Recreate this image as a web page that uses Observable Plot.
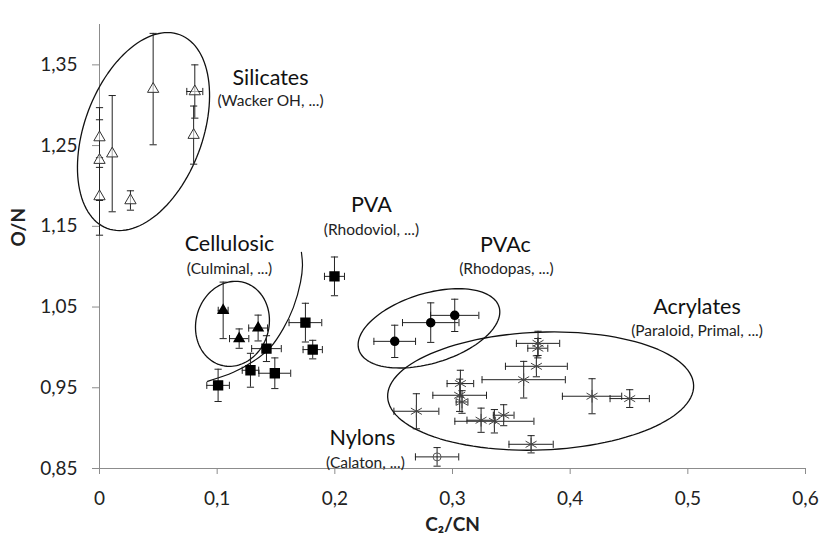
<!DOCTYPE html>
<html>
<head>
<meta charset="utf-8">
<script src="https://cdn.jsdelivr.net/npm/d3@7"></script>
<script src="https://cdn.jsdelivr.net/npm/@observablehq/plot@0.6"></script>
<style>
  html, body { margin: 0; padding: 0; background: #fff; }
  #chart { width: 819px; height: 542px; }
</style>
</head>
<body>
<div id="chart"></div>
<script>
// ---- data ----
const xTicks = [0, 0.1, 0.2, 0.3, 0.4, 0.5, 0.6];
const yTicks = [0.85, 0.95, 1.05, 1.15, 1.25, 1.35];

// Silicates (open triangles)
const silX  = [0, 0, 0, 0.0108, 0.0263, 0.0456, 0.081, 0.080];
const silY  = [1.260, 1.232, 1.187, 1.240, 1.182, 1.320, 1.317, 1.263];
const silEX = [0, 0, 0, 0, 0, 0, 0.0068, 0];
const silEY = [0.037, 0.050, 0.048, 0.072, 0.012, 0.069, 0.033, 0.036];

// Cellulosic (filled triangles)
const celX  = [0.1051, 0.1187, 0.1348];
const celY  = [1.0459, 1.0109, 1.0240];
const celEX = [0.0042, 0.0082, 0.0080];
const celEY = [0.035, 0.012, 0.016];

// PVA (filled squares)
const pvaX  = [0.1008, 0.1283, 0.1490, 0.1419, 0.1750, 0.1812, 0.1997];
const pvaY  = [0.9530, 0.9717, 0.9680, 0.9985, 1.0307, 0.9973, 1.0880];
const pvaEX = [0.0096, 0.0070, 0.0135, 0.0126, 0.0139, 0.0082, 0.0085];
const pvaEY = [0.020, 0.021, 0.019, 0.016, 0.024, 0.0115, 0.024];

// PVAc (filled circles)
const pvacX  = [0.2509, 0.2815, 0.3019];
const pvacY  = [1.0075, 1.0307, 1.0397];
const pvacEX = [0.0177, 0.0240, 0.0205];
const pvacEY = [0.020, 0.0245, 0.020];

// Acrylates (stars)
const acrX  = [0.3727, 0.3725, 0.3713, 0.3605, 0.4186, 0.4506, 0.3067, 0.3061, 0.3081, 0.2693, 0.3243, 0.3356, 0.3435, 0.3668];
const acrY  = [1.0050, 0.9990, 0.9766, 0.9600, 0.9395, 0.9366, 0.9552, 0.9407, 0.9324, 0.9209, 0.9098, 0.9085, 0.9160, 0.8800];
const acrEX = [0.0184, 0.0085, 0.0263, 0.0354, 0.0252, 0.0167, 0.0113, 0.0228, 0.0050, 0.0191, 0.0120, 0.0336, 0.0088, 0.0188];
const acrEY = [0.015, 0.012, 0.013, 0.0227, 0.0217, 0.011, 0.0165, 0.020, 0.014, 0.0217, 0.015, 0.0145, 0.013, 0.0107];

// Nylons (open circle)
const nylX  = [0.2869];
const nylY  = [0.8644];
const nylEX = [0.0184];
const nylEY = [0.0115];

// Group labels
const groupNames = ["Silicates", "Cellulosic", "PVA", "PVAc", "Acrylates", "Nylons"];
const groupSubs  = ["(Wacker OH, ...)", "(Culminal, ...)", "(Rhodoviol, ...)", "(Rhodopas, ...)", "(Paraloid, Primal, ...)", "(Calaton, ...)"];
const nameX = [0.1453, 0.1105, 0.2311, 0.3450, 0.5078, 0.2234];
const nameY = [1.3339, 1.1276, 1.1759, 1.1264, 1.0500, 0.8871];
const subX  = [0.1453, 0.1105, 0.2311, 0.3458, 0.5078, 0.2260];
const subY  = [1.3058, 1.0975, 1.1449, 1.0975, 1.0199, 0.8562];

// Group outlines (center in data units, semi-axes in px, rotation in deg)
const ellCX = [0.0374, 0.1130, 0.2800, 0.3749];
const ellCY = [1.2674, 1.0292, 1.0236, 0.9459];
const ellA  = [103.4, 42.9, 73.3, 153.1];
const ellB  = [58.9, 36.5, 34.9, 58.9];
const ellAng = [-69.4, -74.9, -17, -2.2];

// Cellulosic boundary arc
const arcX = [0.0918, 0.1138, 0.1308, 0.1453, 0.1563, 0.1648, 0.1708, 0.1725, 0.1716];
const arcY = [0.9580, 0.9692, 0.9828, 1.0001, 1.0236, 1.0496, 1.0806, 1.1016, 1.1177];

// ---- build ----
const W = 819, H = 542;
const mL = 99, mR = 14, mT = 24, mB = 74;
const xDom = [0, 0.6], yDom = [0.85, 1.40];
const kx = (xDom[1] - xDom[0]) / (W - mL - mR);
const ky = (yDom[1] - yDom[0]) / (H - mT - mB);

function rows(g, xs, ys, exs, eys) {
  return xs.map((x, i) => ({g, x, y: ys[i], ex: exs[i], ey: eys[i]}));
}
const sil = rows("sil", silX, silY, silEX, silEY);
const cel = rows("cel", celX, celY, celEX, celEY);
const pva = rows("pva", pvaX, pvaY, pvaEX, pvaEY);
const pvac = rows("pvac", pvacX, pvacY, pvacEX, pvacEY);
const acr = rows("acr", acrX, acrY, acrEX, acrEY);
const nyl = rows("nyl", nylX, nylY, nylEX, nylEY);
const all = [...sil, ...cel, ...pva, ...pvac, ...acr, ...nyl];

const vBars = all.filter(d => d.ey > 0);
const hBars = all.filter(d => d.ex > 0);
const capsV = vBars.flatMap(d => [{x: d.x, y: d.y - d.ey}, {x: d.x, y: d.y + d.ey}]);
const capsH = hBars.flatMap(d => [{x: d.x - d.ex, y: d.y}, {x: d.x + d.ex, y: d.y}]);

const hLine = {draw(ctx, size) { const r = Math.sqrt(size / Math.PI); ctx.moveTo(-r, 0); ctx.lineTo(r, 0); }};
const vLine = {draw(ctx, size) { const r = Math.sqrt(size / Math.PI); ctx.moveTo(0, -r); ctx.lineTo(0, r); }};

const ellipses = ellCX.map((cx, i) => {
  const a = ellA[i], b = ellB[i], phi = ellAng[i] * Math.PI / 180;
  const pts = [];
  for (let k = 0; k < 120; k++) {
    const t = (k / 120) * 2 * Math.PI;
    const px = a * Math.cos(t) * Math.cos(phi) - b * Math.sin(t) * Math.sin(phi);
    const py = a * Math.cos(t) * Math.sin(phi) + b * Math.sin(t) * Math.cos(phi);
    pts.push({id: i, x: cx + px * kx, y: ellCY[i] - py * ky});
  }
  return pts;
}).flat();
const arc = arcX.map((x, i) => ({x, y: arcY[i]}));

const labels = groupNames.map((t, i) => ({t, x: nameX[i], y: nameY[i]}));
const subs = groupSubs.map((t, i) => ({t, x: subX[i], y: subY[i]}));

const commaFmt = (n) => (v) => v === 0 ? "0" : v.toFixed(n).replace(".", ",");

const chart = Plot.plot({
  width: W, height: H,
  marginLeft: mL, marginRight: mR, marginTop: mT, marginBottom: mB,
  x: {domain: xDom},
  y: {domain: yDom},
  style: {fontFamily: "Lato, 'Open Sans', sans-serif", background: "#fff", color: "#222"},
  marks: [
    Plot.ruleY([0.85], {stroke: "#8c8c8c", strokeWidth: 1}),
    Plot.ruleX([0], {stroke: "#8c8c8c", strokeWidth: 1}),
    Plot.axisX({ticks: xTicks, tickFormat: commaFmt(1), tickSize: 6, tickPadding: 17, fontSize: 19, stroke: "#8c8c8c", fill: "#222", label: null}),
    Plot.axisY({ticks: yTicks, tickFormat: commaFmt(2), tickSize: 7, tickPadding: 15, fontSize: 19, stroke: "#8c8c8c", fill: "#222", label: null}),
    Plot.line(ellipses, {x: "x", y: "y", z: "id", curve: "linear-closed", stroke: "#111", strokeWidth: 1.3}),
    Plot.line(arc, {x: "x", y: "y", curve: "catmull-rom", stroke: "#111", strokeWidth: 1.2}),
    Plot.ruleX(vBars, {x: "x", y1: d => d.y - d.ey, y2: d => d.y + d.ey, stroke: "#222", strokeWidth: 1}),
    Plot.ruleY(hBars, {y: "y", x1: d => d.x - d.ex, x2: d => d.x + d.ex, stroke: "#222", strokeWidth: 1}),
    Plot.dot(capsV, {x: "x", y: "y", symbol: hLine, r: 3.6, stroke: "#222", strokeWidth: 1}),
    Plot.dot(capsH, {x: "x", y: "y", symbol: vLine, r: 3.6, stroke: "#222", strokeWidth: 1}),
    Plot.dot(sil, {x: "x", y: "y", symbol: "triangle", r: 4.2, fill: "#fff", fillOpacity: 0.6, stroke: "#333", strokeWidth: 1}),
    Plot.dot(cel, {x: "x", y: "y", symbol: "triangle", r: 3.6, fill: "#000", stroke: "#000"}),
    Plot.dot(pva, {x: "x", y: "y", symbol: "square", r: 5, fill: "#000", stroke: "#000"}),
    Plot.dot(pvac, {x: "x", y: "y", symbol: "circle", r: 4, fill: "#000", stroke: "#000"}),
    Plot.dot(acr, {x: "x", y: "y", symbol: "asterisk", r: 6, stroke: "#444", strokeWidth: 1}),
    Plot.dot(nyl, {x: "x", y: "y", symbol: "circle", r: 4, fill: "none", stroke: "#555", strokeWidth: 1}),
    Plot.text(labels, {x: "x", y: "y", text: "t", fontSize: 21.5, fill: "#111"}),
    Plot.text(subs, {x: "x", y: "y", text: "t", fontSize: 15.5, fill: "#222"}),
    Plot.text(["O/N"], {frameAnchor: "left", dx: -81, rotate: -90, fontSize: 19, fontWeight: "bold", fill: "#222"}),
    Plot.text(["C\u2082/CN"], {frameAnchor: "bottom", dy: 62, fontSize: 19, fontWeight: "bold", fill: "#222"})
  ]
});
document.getElementById("chart").appendChild(chart);
</script>
</body>
</html>
